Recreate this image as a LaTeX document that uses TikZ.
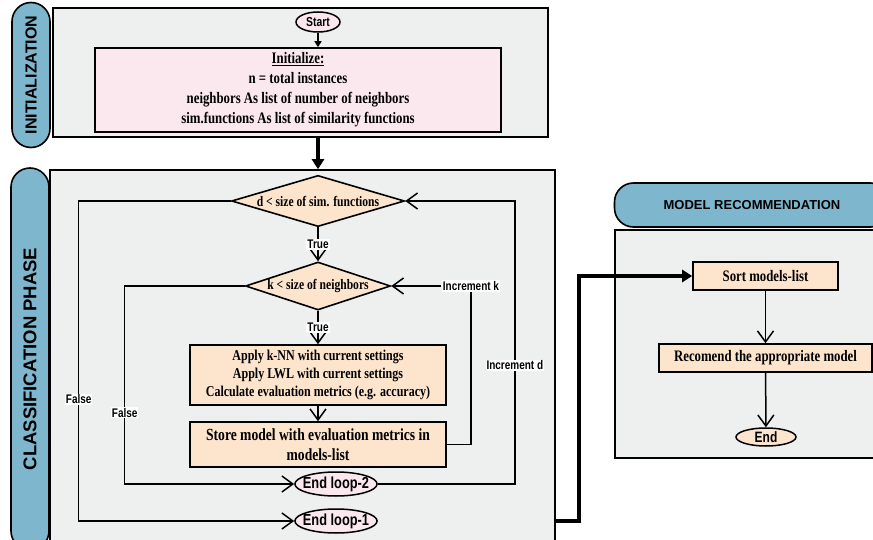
\documentclass[tikz,border=0pt]{standalone}
\usepackage{fontspec}
\usepackage{tikz}
\usetikzlibrary{shapes,arrows.meta}
\usetikzlibrary{positioning}
\newfontfamily\boxfont[FakeStretch=0.8]{Liberation Serif}
\newfontfamily\labfont[FakeStretch=0.8]{Liberation Sans}
\newfontfamily\pillfont{Liberation Sans}
\definecolor{panelgray}{RGB}{238,240,239}
\definecolor{pillblue}{RGB}{126,183,205}
\definecolor{peach}{RGB}{253,228,205}
\definecolor{pinkfill}{RGB}{250,232,238}

\begin{document}
\begin{tikzpicture}[x=1pt,y=-1pt,line width=1.5pt,
  panel/.style={draw,line width=1.6pt,fill=panelgray,inner sep=0pt},
  pill/.style={draw,line width=1.6pt,fill=pillblue,rounded corners=19pt,inner sep=0pt,
    font=\pillfont\bfseries},
  procbox/.style={draw,line width=1.6pt,fill=peach,align=center,inner sep=0pt,
    font=\boxfont\bfseries\fontsize{16}{20}\selectfont},
  decision/.style={diamond,draw,line width=1.6pt,fill=peach,inner sep=0pt,aspect=3,
    font=\boxfont\bfseries\fontsize{14.5}{16}\selectfont},
  term/.style={ellipse,draw,line width=1.5pt,inner ysep=0pt,inner xsep=-4pt,
    font=\labfont\bfseries\fontsize{16}{18}\selectfont},
  lab/.style={fill=white,inner sep=1pt,font=\labfont\bfseries\fontsize{12.5}{14}\selectfont},
  vtip/.style={-{Straight Barb[length=11pt,width=16pt]}},
  smalltip/.style={-{Triangle[length=6pt,width=7pt]}},
  bigarrow/.style={line width=4pt,-{Triangle[length=10pt,width=12pt]}}]

  \useasboundingbox (0,0) rectangle (873,540);

  % panels
  \node[panel,minimum width=495pt,minimum height=129pt] (initpanel) at (300.5,72.5) {};
  \node[panel,minimum width=505pt,minimum height=380pt] (classpanel) at (302.5,360) {};
  \node[panel,minimum width=265pt,minimum height=228pt] (modelpanel) at (747.5,344) {};

  % phase labels
  \node[pill,rotate=90,minimum width=145pt,minimum height=38pt,
    font=\pillfont\bfseries\fontsize{16}{18}\selectfont] (initpill) at (31,75) {INITIALIZATION};
  \node[pill,rotate=90,minimum width=382pt,minimum height=38pt,
    font=\pillfont\bfseries\fontsize{18.5}{20}\selectfont] (classpill) at (30,359) {CLASSIFICATION PHASE};
  \node[pill,minimum width=275pt,minimum height=44pt,
    font=\pillfont\bfseries\fontsize{13}{16}\selectfont] (modelpill) at (752,205) {MODEL RECOMMENDATION};

  % initialization
  \node[term,fill=pinkfill,minimum width=44pt,minimum height=20pt,
    font=\labfont\bfseries\fontsize{13}{14}\selectfont] (start) at (318,22) {Start};
  \node[procbox,fill=pinkfill,minimum width=406pt,minimum height=84pt] (init) at (298,90)
    {\underline{Initialize:}\\ n = total instances\\ neighbors As list of number of neighbors\\
     sim.functions As list of similarity functions};
  \draw[smalltip] (start) -- (start |- init.north);
  \draw[bigarrow] (initpanel.south -| start) -- (classpanel.north -| start);

  % loops
  \node[decision,minimum width=173pt,minimum height=50pt] (dloop) at (318,201) {d < size of sim. functions};
  \node[decision,minimum width=145pt,minimum height=48pt] (kloop) at (318,286) {k < size of neighbors};
  \node[procbox,minimum width=256pt,minimum height=60pt,
    font=\boxfont\bfseries\fontsize{15}{18}\selectfont] (apply) at (318,375)
    {Apply k-NN with current settings\\ Apply LWL with current settings\\
     Calculate evaluation metrics (e.g. accuracy)};
  \node[procbox,minimum width=256pt,minimum height=45pt,
    font=\boxfont\bfseries\fontsize{17}{20}\selectfont] (store) at (318,444.5)
    {Store model with evaluation metrics in\\ models-list};
  \node[term,fill=pinkfill,minimum width=78pt,minimum height=24pt] (endtwo) at (336,484) {End loop-2};
  \node[term,fill=pinkfill,minimum width=78pt,minimum height=24pt] (endone) at (336,521) {End loop-1};
  \node[lab] (inck) at (471,286) {Increment k};

  \draw[vtip] (dloop) -- node[lab] {True} (kloop);
  \draw[vtip] (kloop) -- node[lab] {True} (apply);
  \draw[vtip] (apply) -- (store);
  \draw[vtip] (kloop.west) -- ++(-120,0) |- (endtwo.west) node[pos=0.32,lab] {False};
  \draw[vtip] (dloop.west) -- ++(-152,0) |- (endone.west) node[pos=0.31,lab] {False};
  \draw (store.east) -| (inck.south);
  \draw[vtip] (inck.west) -- (kloop.east);
  \draw[vtip] (endtwo.east) -- ++(137,0) |- (dloop.east) node[pos=0.21,lab] {Increment d};

  % model recommendation
  \node[procbox,minimum width=145pt,minimum height=28pt] (sort) at (765.5,276) {Sort models-list};
  \node[procbox,minimum width=213pt,minimum height=28pt] (recom) at (765.5,358) {Recomend the appropriate model};
  \node[term,fill=peach,minimum width=60pt,minimum height=18pt,
    font=\labfont\bfseries\fontsize{15}{16}\selectfont] (finish) at (766,437) {End};
  \draw[vtip] (sort) -- (recom);
  \draw[vtip] (recom) -- (finish);

  \draw[bigarrow] (classpanel.east |- endone) -- ++(23,0) |- (sort.west);

\end{tikzpicture}
\end{document}
